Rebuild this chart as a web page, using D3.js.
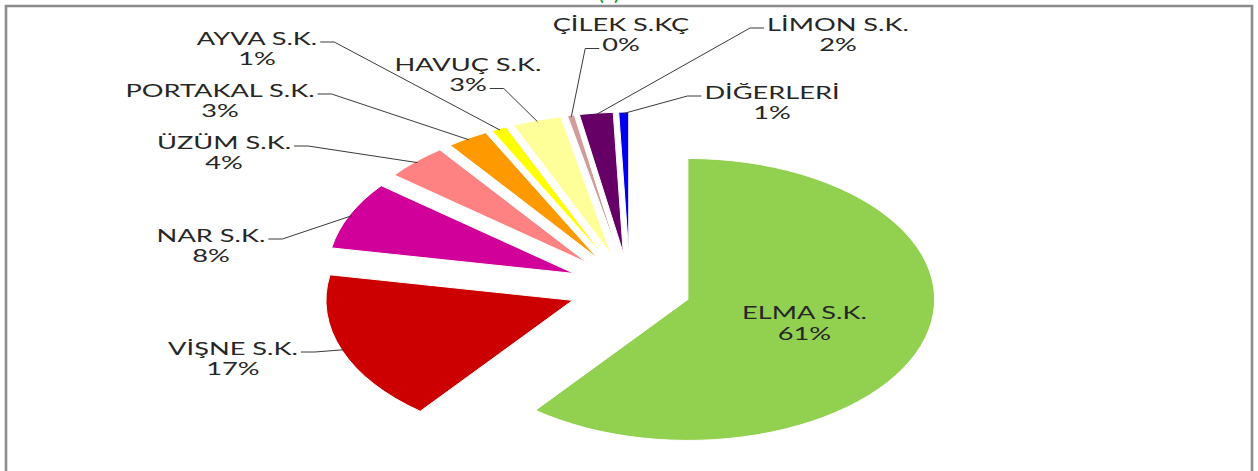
<!DOCTYPE html>
<html>
<head>
<meta charset="utf-8">
<script src="https://cdn.jsdelivr.net/npm/d3@7"></script>
<style>
  body { margin: 0; background: #fff; }
  svg { display: block; }
</style>
</head>
<body>
<div id="chart"></div>
<script>
const width = 1258, height = 471

// data (share of each juice, %)
const categories = ['ELMA S.K.', 'VİŞNE S.K.', 'NAR S.K.', 'ÜZÜM S.K.', 'PORTAKAL S.K.', 'AYVA S.K.', 'HAVUÇ S.K.', 'ÇİLEK S.KÇ', 'LİMON S.K.', 'DİĞERLERİ']
const values     = [60.6,        17.3,         7.8,        4.1,         2.7,             1.0,         3.2,          0.45,         2.2,          0.65]
const colors     = ['#92d050',   '#cc0000',    '#d1009a',  '#ff8282',   '#ff9900',       '#ffff00',   '#ffff99',    '#d39b9b',    '#660066',    '#0000ee']

// label layout: centre x, first baseline, leader side and line it hangs on
const labelLayout = [
  null,
  { x: 233, y: 355, side: 'r', line: 0 },
  { x: 211, y: 242, side: 'r', line: 0 },
  { x: 224, y: 149, side: 'r', line: 0 },
  { x: 220, y: 97,  side: 'r', line: 0 },
  { x: 257, y: 45,  side: 'r', line: 0 },
  { x: 468, y: 71,  side: 'r', line: 1 },
  { x: 621, y: 31,  side: 'l', line: 1 },
  { x: 838, y: 31,  side: 'l', line: 0 },
  { x: 772, y: 99,  side: 'l', line: 0 }
]

const cx = 630, cy = 288          // pie centre
const radius = 141                // vertical radius
const sx = 1.75                   // horizontal stretch of the picture
const explode = 35                // slice offset
const textStretch = 1.6
const lineGap = 20.5

const svg = d3.select('#chart').append('svg').attr('width', width).attr('height', height)

// frame
svg.append('path')
  .attr('d', 'M6,' + (height + 2) + ' V6 H1252 V' + (height + 2))
  .attr('fill', 'none').attr('stroke', '#8c8c8c').attr('stroke-width', 2.6)

// cut-off green caption at the very top
svg.append('text').attr('x', 609).attr('y', 0).attr('text-anchor', 'middle')
  .style('font-family', 'Lato, sans-serif').style('font-size', '22px').attr('fill', '#1a9a1a')
  .text('(a)')

const total = d3.sum(values)
const pie = d3.pie().sort(null).value(d => d).startAngle(0).endAngle(2 * Math.PI)
const arcs = pie(values)
const arc = d3.arc().innerRadius(0).outerRadius(radius)

function midAngle(a) { return (a.startAngle + a.endAngle) / 2 }
function apex(a) {
  var m = midAngle(a)
  return [cx + sx * explode * Math.sin(m), cy - explode * Math.cos(m)]
}
function outerPoint(a, k) {
  var m = midAngle(a), p = apex(a)
  return [p[0] + sx * radius * k * Math.sin(m), p[1] - radius * k * Math.cos(m)]
}

svg.append('g').selectAll('path')
  .data(arcs)
  .enter()
  .append('path')
  .attr('transform', d => { var p = apex(d); return 'translate(' + p[0] + ',' + p[1] + ') scale(' + sx + ',1)' })
  .attr('d', arc)
  .attr('fill', (d, i) => colors[i])
  .attr('stroke', '#fff').attr('stroke-width', 1).attr('vector-effect', 'non-scaling-stroke')

function pct(v) { return Math.round(v / total * 100) + '%' }

function addLabel(x, y, i) {
  var g = svg.append('g').attr('transform', 'translate(' + x + ',' + y + ') scale(' + textStretch + ',1)')
  var t = g.append('text')
    .attr('text-anchor', 'middle')
    .style('font-family', 'Lato, sans-serif')
    .style('font-size', '17px')
    .attr('fill', '#262626')
  var t0 = t.append('tspan').attr('x', 0).attr('y', 0).text(categories[i])
  var t1 = t.append('tspan').attr('x', 0).attr('y', lineGap).text(pct(values[i]))
  return [t0.node().getComputedTextLength() * textStretch, t1.node().getComputedTextLength() * textStretch]
}

arcs.forEach(function(a, i) {
  if (i == 0) {
    var c = outerPoint(a, 0.5)
    addLabel(c[0], c[1] - 3, i)
    return
  }
  var L = labelLayout[i]
  var widths = addLabel(L.x, L.y, i)
  var w = widths[L.line]
  var ay = L.y + L.line * lineGap - 3
  var ax = L.side == 'r' ? L.x + w / 2 + 3 : L.x - w / 2 - 3
  var ex = L.side == 'r' ? ax + 14 : ax - 14
  var end = outerPoint(a, 0.99)
  svg.append('polyline')
    .attr('points', [[ax, ay], [ex, ay], end].map(p => p.join(',')).join(' '))
    .attr('fill', 'none').attr('stroke', '#3a3a3a').attr('stroke-width', 1)
})
</script>
</body>
</html>
